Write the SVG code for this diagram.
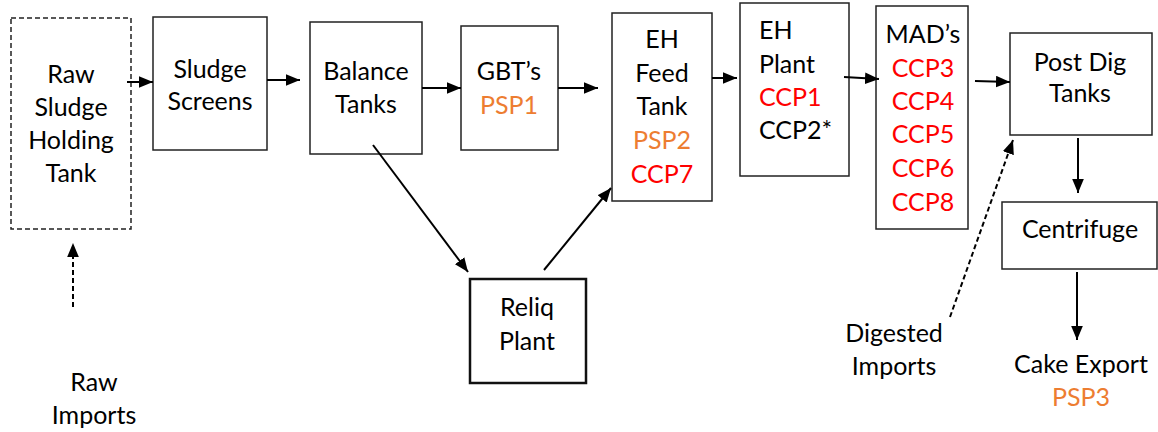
<svg xmlns="http://www.w3.org/2000/svg" width="1158" height="432" viewBox="0 0 1158 432">
<defs>
<style>
text{font-family:Lato,"Open Sans","Liberation Sans",sans-serif;font-size:25px;fill:#000}
.c{text-anchor:middle}
.o{fill:#ED7D31}
.r{fill:#FF0000}
.box{fill:#fff;stroke:#222;stroke-width:1.5}
.dash{stroke-dasharray:5,3}
.ln{stroke:#000;stroke-width:2;fill:none}
</style>
<marker id="ah" viewBox="0 0 12 10" refX="12" refY="5" markerWidth="14" markerHeight="12" markerUnits="userSpaceOnUse" orient="auto"><path d="M0,0L12,5L0,10z" fill="#000"/></marker>
</defs>
<rect width="1158" height="432" fill="#fff"/>
<g id="raw-holding">
<rect class="box dash" x="11" y="18" width="120" height="211"/>
<text class="c" x="71" y="83">Raw</text><text class="c" x="71" y="116">Sludge</text><text class="c" x="71" y="149">Holding</text><text class="c" x="71" y="182">Tank</text>
</g>
<g id="sludge-screens">
<rect class="box" x="153" y="17" width="114" height="133"/>
<text class="c" x="210" y="78">Sludge</text><text class="c" x="210" y="110">Screens</text>
</g>
<g id="balance-tanks">
<rect class="box" x="310" y="22" width="112" height="132"/>
<text class="c" x="366" y="80">Balance</text><text class="c" x="366" y="113">Tanks</text>
</g>
<g id="gbts">
<rect class="box" x="461" y="26" width="97" height="124"/>
<text class="c" x="509" y="80">GBT’s</text><text class="c o" x="509" y="114">PSP1</text>
</g>
<g id="eh-feed">
<rect class="box" x="612" y="13" width="100" height="188"/>
<text class="c" x="662" y="48">EH</text><text class="c" x="662" y="82">Feed</text><text class="c" x="662" y="115">Tank</text><text class="c o" x="662" y="149">PSP2</text><text class="c r" x="662" y="183">CCP7</text>
</g>
<g id="eh-plant">
<rect class="box" x="740" y="3" width="109" height="173"/>
<text x="759" y="39">EH</text><text x="759" y="73">Plant</text><text class="r" x="759" y="106">CCP1</text><text x="759" y="139">CCP2*</text>
</g>
<g id="mads">
<rect class="box" x="876" y="6" width="92" height="223"/>
<text class="c" x="923" y="43">MAD’s</text><text class="c r" x="923" y="77">CCP3</text><text class="c r" x="923" y="110">CCP4</text><text class="c r" x="923" y="143">CCP5</text><text class="c r" x="923" y="177">CCP6</text><text class="c r" x="923" y="211">CCP8</text>
</g>
<g id="post-dig">
<rect class="box" x="1010" y="33" width="142" height="102"/>
<text class="c" x="1080" y="71">Post Dig</text><text class="c" x="1080" y="102">Tanks</text>
</g>
<g id="centrifuge">
<rect class="box" x="1002" y="202" width="155" height="67"/>
<text class="c" x="1080" y="238">Centrifuge</text>
</g>
<g id="reliq">
<rect x="470" y="279" width="116" height="104" fill="#fff" stroke="#111" stroke-width="2.5"/>
<text class="c" x="527" y="316">Reliq</text><text class="c" x="527" y="350">Plant</text>
</g>
<g id="raw-imports">
<text class="c" x="94" y="391">Raw</text><text class="c" x="94" y="424">Imports</text>
</g>
<g id="digested-imports">
<text class="c" x="894" y="342">Digested</text><text class="c" x="894" y="375">Imports</text>
</g>
<g id="cake-export">
<text class="c" x="1081" y="373">Cake Export</text><text class="c o" x="1081" y="406">PSP3</text>
</g>
<g id="connectors">
<line class="ln" x1="127" y1="82" x2="153" y2="82" marker-end="url(#ah)"/>
<line class="ln" x1="267" y1="80" x2="300" y2="80" marker-end="url(#ah)"/>
<line class="ln" x1="422" y1="88" x2="461" y2="88" marker-end="url(#ah)"/>
<line class="ln" x1="558" y1="88" x2="598" y2="88" marker-end="url(#ah)"/>
<line class="ln" x1="712" y1="78" x2="737" y2="78" marker-end="url(#ah)"/>
<line class="ln" x1="844" y1="77" x2="879" y2="79" marker-end="url(#ah)"/>
<line class="ln" x1="975" y1="81" x2="1010" y2="82" marker-end="url(#ah)"/>
<line class="ln" x1="1078" y1="138" x2="1078" y2="193" marker-end="url(#ah)"/>
<line class="ln" x1="1077" y1="272" x2="1077" y2="340" marker-end="url(#ah)"/>
<line class="ln" x1="373" y1="145" x2="468" y2="272" marker-end="url(#ah)"/>
<line class="ln" x1="544" y1="270" x2="611" y2="188" marker-end="url(#ah)"/>
<line class="ln dash" x1="73" y1="307" x2="73" y2="243" marker-end="url(#ah)"/>
<line class="ln dash" x1="950" y1="317" x2="1013" y2="140" marker-end="url(#ah)"/>
</g>
</svg>
